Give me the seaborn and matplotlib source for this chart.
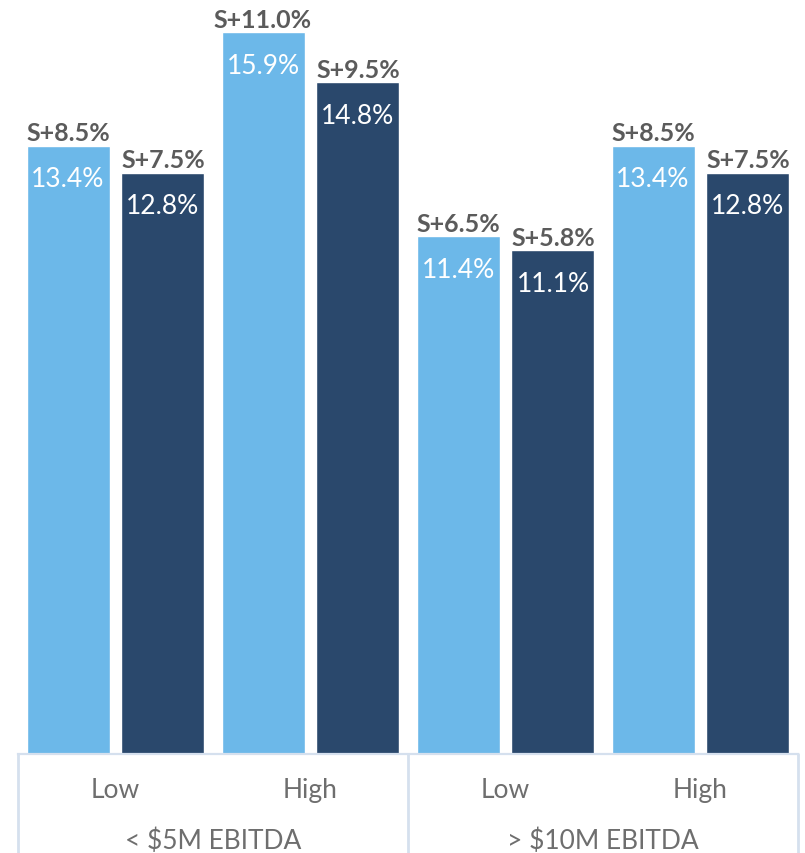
import matplotlib
matplotlib.use("Agg")
import matplotlib.pyplot as plt
import matplotlib.transforms as mtransforms
import seaborn as sns
import pandas as pd

# ---- data ----
groups = ["< $5M EBITDA", "> $10M EBITDA"]
levels = ["Low", "High", "Low", "High"]
cat_ids = ["c0", "c1", "c2", "c3"]
series = ["Series A", "Series B"]
yield_a = [13.4, 15.9, 11.4, 13.4]
yield_b = [12.8, 14.8, 11.1, 12.8]
spread_a = ["S+8.5%", "S+11.0%", "S+6.5%", "S+8.5%"]
spread_b = ["S+7.5%", "S+9.5%", "S+5.8%", "S+7.5%"]

LIGHT = "#6CB8E9"
DARK = "#2A486C"
LINE = "#D5E0EE"

df = pd.DataFrame({
    "cat": cat_ids * 2,
    "series": [series[0]] * 4 + [series[1]] * 4,
    "value": yield_a + yield_b,
})

sns.set_theme(style="white")
plt.rcParams["font.family"] = ["Lato", "DejaVu Sans"]

W, H = 805, 854
fig = plt.figure(figsize=(W / 100, H / 100), dpi=100)
bottom_px = 754.5
ax = fig.add_axes([18 / W, (H - bottom_px) / H, 780 / W, bottom_px / H])

sns.barplot(data=df, x="cat", y="value", hue="series", order=cat_ids,
            hue_order=series, palette={series[0]: LIGHT, series[1]: DARK},
            width=0.974, gap=0.126, dodge=True, legend=False,
            saturation=1, ax=ax, errorbar=None)

ax.set_xlim(-0.5, 3.5)
ax.set_ylim(0, bottom_px / 45.36)
ax.set_xticks([])
ax.set_yticks([])
ax.set_xlabel("")
ax.set_ylabel("")
for s in ["top", "left", "right"]:
    ax.spines[s].set_visible(False)
ax.spines["bottom"].set_color(LINE)
ax.spines["bottom"].set_linewidth(1.6)

# labels on bars
for cont, vals, spreads in zip(ax.containers, [yield_a, yield_b], [spread_a, spread_b]):
    for patch, v, sp in zip(cont.patches, vals, spreads):
        xc = patch.get_x() + patch.get_width() / 2
        top = patch.get_height()
        ax.annotate(f"{v:.1f}%", (xc, top), xytext=(0, -33 * 0.72),
                    textcoords="offset points", ha="center", va="center",
                    color="white", fontsize=19, fontweight="normal")
        ax.annotate(sp, (xc, top), xytext=(0, 5.5 * 0.72),
                    textcoords="offset points", ha="center", va="baseline",
                    color="#5B5B5B", fontsize=18, fontweight="bold")

# bottom category frame
trans = mtransforms.blended_transform_factory(ax.transData, ax.transAxes)
ybot = -(H - bottom_px) / bottom_px
for xv in [-0.5, 1.5, 3.5]:
    ax.plot([xv, xv], [0, ybot], transform=trans, color=LINE, lw=2, clip_on=False)

def yfrac(px):
    return (bottom_px - px) / bottom_px

for i, lv in enumerate(levels):
    ax.text(i, yfrac(798), lv, transform=trans, ha="center", va="baseline",
            fontsize=19, color="#6E6E6E", fontweight="normal")
for j, g in enumerate(groups):
    ax.text(2 * j + 0.5, yfrac(849), g, transform=trans, ha="center",
            va="baseline", fontsize=19, color="#6E6E6E", fontweight="normal")

fig.savefig("out.png", dpi=100)
